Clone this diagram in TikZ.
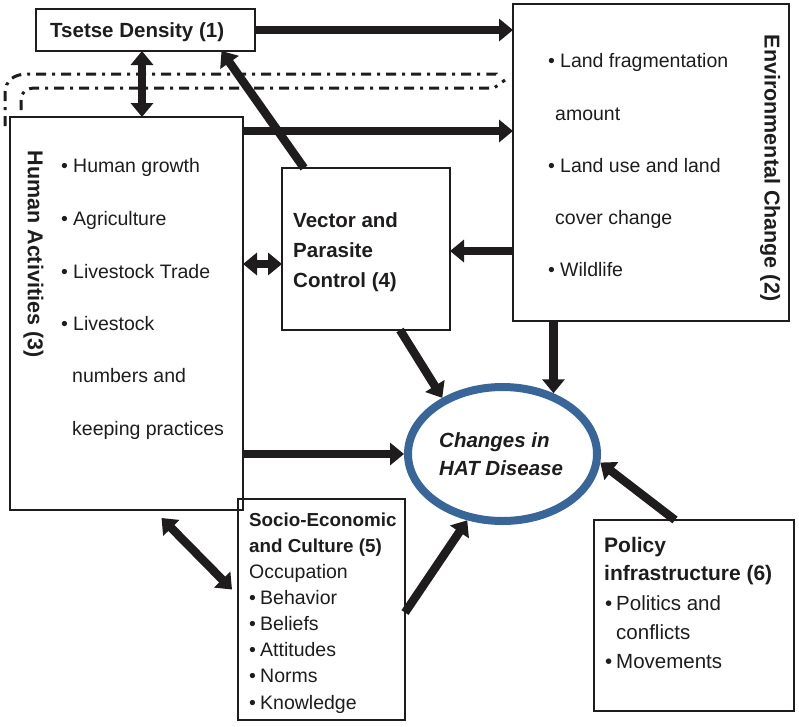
\documentclass[tikz,border=0pt]{standalone}
\usepackage{fontspec}
\setmainfont{Liberation Sans}
\usetikzlibrary{arrows.meta,shapes.geometric,calc}
\definecolor{hatblue}{RGB}{56,102,152}
\definecolor{ink}{RGB}{30,28,28}
\begin{document}
\begin{tikzpicture}[x=1pt,y=-1pt,
 box/.style={draw=ink,line width=1.8pt,inner sep=0pt,outer sep=0pt},
 body/.style={anchor=base west,inner sep=0pt,font=\fontsize{19.5}{23}\selectfont,text=ink},
 ttl/.style={anchor=base west,inner sep=0pt,font=\fontsize{20.5}{24}\selectfont\bfseries,text=ink},
 vttl/.style={inner sep=0pt,rotate=-90,font=\fontsize{21.5}{24}\selectfont\bfseries,text=ink},
 hatt/.style={anchor=base west,inner sep=0pt,font=\fontsize{20.5}{24}\selectfont\bfseries\itshape,text=ink},
 arr/.style={draw=ink,line width=8.5pt,-{Triangle[length=14pt,width=22pt]}},
 darr/.style={draw=ink,line width=8.5pt,{Triangle[length=14pt,width=22pt]}-{Triangle[length=14pt,width=22pt]}},
 loopline/.style={draw=ink,line width=3pt,dash pattern=on 10pt off 6pt on 3pt off 6pt}]
\useasboundingbox (0,0) rectangle (799,726);

% boxes
\node[box,minimum width=219pt,minimum height=42pt] (tsetse) at (145.5,30) {};
\node[box,minimum width=276pt,minimum height=317pt] (env) at (651,162.5) {};
\node[box,minimum width=233pt,minimum height=393pt] (human) at (126.5,313.5) {};
\node[box,minimum width=168pt,minimum height=162pt] (vector) at (366,249) {};
\node[box,minimum width=167pt,minimum height=221pt] (socio) at (321.5,609.5) {};
\node[box,minimum width=200pt,minimum height=191pt] (policy) at (694,615.5) {};
\node[ellipse,draw=hatblue,line width=8pt,minimum width=189pt,minimum height=134pt,inner sep=0pt] (hat) at (502.5,454) {};

% dash-dot band
\draw[loopline] (5,126) -- (5,94) .. controls (5,80) and (14,74) .. (28,74) -- (496,74) -- (496,79);
\draw[loopline] (21,110) -- (21,100) .. controls (21,92) and (26,88) .. (36,88) -- (494,88) -- (505,80);

% texts
\node[ttl] (tsetseT) at (50,37) {Tsetse Density (1)};

\node[vttl] (envT) at (770,168) {Environmental Change (2)};
\node[body] (e1b) at (548,67) {•};
\node[body] (e1) at (560,67) {Land fragmentation};
\node[body] (e1c) at (555,120) {amount};
\node[body] (e2b) at (548,172) {•};
\node[body] (e2) at (560,172) {Land use and land};
\node[body] (e2c) at (555,224) {cover change};
\node[body] (e3b) at (548,276) {•};
\node[body] (e3) at (560,276) {Wildlife};

\node[vttl] (humT) at (33.5,254) {Human Activities (3)};
\node[body] (h1b) at (61,172) {•};
\node[body] (h1) at (73,172) {Human growth};
\node[body] (h2b) at (61,225) {•};
\node[body] (h2) at (73,225) {Agriculture};
\node[body] (h3b) at (61,278) {•};
\node[body] (h3) at (73,278) {Livestock Trade};
\node[body] (h4b) at (61,330) {•};
\node[body] (h4) at (73,330) {Livestock};
\node[body] (h4c) at (72,382) {numbers and};
\node[body] (h4d) at (72,435) {keeping practices};

\node[ttl] (v1) at (293,227) {Vector and};
\node[ttl] (v2) at (293,257) {Parasite};
\node[ttl] (v3) at (293,287) {Control (4)};

\node[hatt] (c1) at (439,447) {Changes in};
\node[hatt] (c2) at (439,475) {HAT Disease};

\node[ttl,font=\fontsize{18.8}{22}\selectfont\bfseries] (s1) at (249,526) {Socio-Economic};
\node[ttl,font=\fontsize{18.8}{22}\selectfont\bfseries] (s2) at (249,552) {and Culture (5)};
\node[body] (s3) at (249,578) {Occupation};
\node[body] (s4b) at (249,604) {•};
\node[body] (s4) at (260,604) {Behavior};
\node[body] (s5b) at (249,630) {•};
\node[body] (s5) at (260,630) {Beliefs};
\node[body] (s6b) at (249,656) {•};
\node[body] (s6) at (260,656) {Attitudes};
\node[body] (s7b) at (249,682) {•};
\node[body] (s7) at (260,682) {Norms};
\node[body] (s8b) at (249,709) {•};
\node[body] (s8) at (260,709) {Knowledge};

\node[ttl,font=\fontsize{21}{24}\selectfont\bfseries] (p1) at (604,552) {Policy};
\node[ttl,font=\fontsize{21}{24}\selectfont\bfseries] (p2) at (604,580) {infrastructure (6)};
\node[body,font=\fontsize{20.5}{24}\selectfont] (p3b) at (605,610) {•};
\node[body,font=\fontsize{20.5}{24}\selectfont] (p3) at (616,610) {Politics and};
\node[body,font=\fontsize{20.5}{24}\selectfont] (p3c) at (616,639) {conflicts};
\node[body,font=\fontsize{20.5}{24}\selectfont] (p4b) at (605,668) {•};
\node[body,font=\fontsize{20.5}{24}\selectfont] (p4) at (616,668) {Movements};

% helper coordinates
\coordinate (hA) at ([yshift=-14pt]human.north east);
\coordinate (th) at ([xshift=-3.5pt]tsetse.south);
\coordinate (hv) at ([yshift=-15pt]vector.west);
\coordinate (ev) at ([yshift=-2pt]vector.east);

% connectors
\draw[arr] (tsetse.east) -- (env.west |- tsetse.east);
\draw[arr] (hA) -- (env.west |- hA);
\draw[darr] (th) -- (th |- human.north);
\draw[arr] ([xshift=-62pt]vector.north) -- ([xshift=76pt]tsetse.south);
\draw[darr] (human.east |- hv) -- (hv);
\draw[arr] (env.west |- ev) -- (ev);
\draw[arr] ([xshift=34pt]vector.south) -- (hat.137);
\draw[arr] (hat.50 |- env.south) -- (hat.50);
\draw[arr] (human.east |- hat.west) -- (hat.west);
\draw[arr] ([yshift=-3pt]socio.east) -- (hat.242);
\draw[arr] ([xshift=-19pt]policy.north) -- (hat.355);
\draw[darr] ([shift={(35,8)}]human.south) -- ([shift={(-6,-20)}]socio.west);
\end{tikzpicture}
\end{document}
